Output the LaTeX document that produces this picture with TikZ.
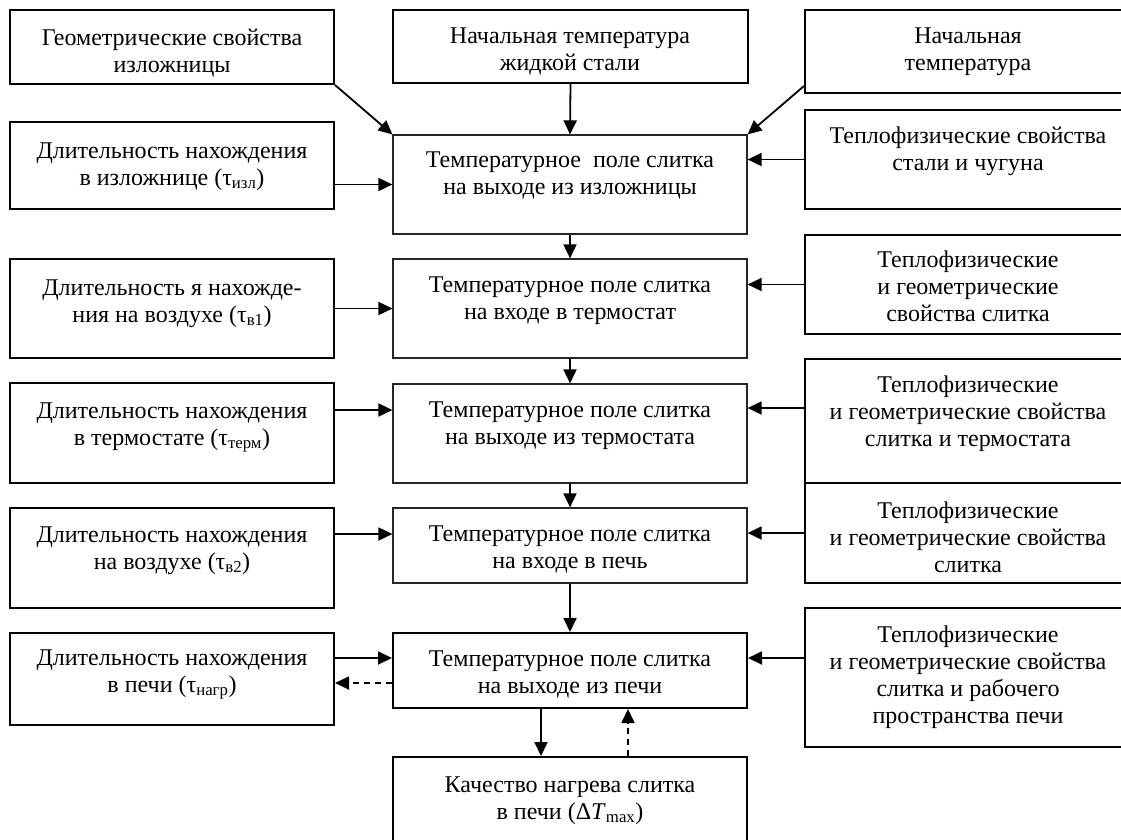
\documentclass[tikz,border=0pt]{standalone}
\usepackage{fontspec}
\setmainfont{Liberation Serif}
\usetikzlibrary{arrows.meta,fit}
\newcommand\bx[9]{%
  \node[#2, fit={(#3,#4) (#5,#6)}] (#1) {};
  \node[txt, anchor=north] at (#7,#8-18.9) {\strut #9};
}
\begin{document}
\begin{tikzpicture}[x=1pt,y=-1pt,
 outer/.style={draw, line width=2pt, inner sep=0pt},
 inner/.style={draw=black!85, line width=1.2pt, inner sep=0pt},
 txt/.style={font=\fontsize{24}{27}\selectfont, align=center, inner sep=0pt},
 arr/.style={line width=1.8pt, -{Triangle[length=14pt,width=13pt]}},
 darr/.style={arr, dash pattern=on 6pt off 5pt}]
\useasboundingbox (0,0) rectangle (1121,839);

\bx{L0}{outer}{10}{10}{334}{84}{172}{45}{Геометрические свойства\\изложницы}
\bx{T}{outer}{393}{10}{748}{83}{570}{43}{Начальная температура\\жидкой стали}
\bx{R0}{outer}{805}{10}{1133}{93}{968}{43}{Начальная\\температура}
\bx{L1}{outer}{10}{122}{334}{209}{172}{158}{Длительность нахождения\\в изложнице (τ\textsubscript{изл})}
\bx{M1}{inner}{393}{135}{747}{234}{570}{167}{Температурное\ \ поле слитка\\на выходе из изложницы}
\bx{R1}{outer}{805}{110}{1133}{209}{968}{143}{Теплофизические свойства\\стали и чугуна}
\bx{L2}{outer}{10}{259}{334}{358}{172}{295}{Длительность я нахожде-\\ния на воздухе (τ\textsubscript{в1})}
\bx{M2}{inner}{393}{259}{747}{358}{570}{292}{Температурное поле слитка\\на входе в термостат}
\bx{R2}{outer}{805}{235}{1133}{334}{968}{267}{Теплофизические\\и геометрические\\свойства слитка}
\bx{L3}{outer}{10}{383}{334}{483}{172}{418}{Длительность нахождения\\в термостате (τ\textsubscript{терм})}
\bx{M3}{inner}{393}{384}{747}{483}{570}{417}{Температурное поле слитка\\на выходе из термостата}
\bx{R3}{outer}{805}{359}{1133}{483}{968}{392}{Теплофизические\\и геометрические свойства\\слитка и термостата}
\bx{L4}{outer}{10}{508}{334}{608}{172}{542}{Длительность нахождения\\на воздухе (τ\textsubscript{в2})}
\bx{M4}{inner}{393}{508}{747}{583}{570}{541}{Температурное поле слитка\\на входе в печь}
\bx{R4}{outer}{805}{483}{1133}{583}{968}{518}{Теплофизические\\и геометрические свойства\\слитка}
\bx{L5}{outer}{10}{633}{334}{725}{172}{665}{Длительность нахождения\\в печи (τ\textsubscript{нагр})}
\bx{M5}{outer}{393}{633}{747}{708}{570}{666}{Температурное поле слитка\\на выходе из печи}
\bx{R5}{outer}{805}{608}{1133}{747}{968}{642}{Теплофизические\\и геометрические свойства\\слитка и рабочего\\пространства печи}
\bx{M6}{outer}{393}{757}{747}{870}{570}{792}{Качество нагрева слитка\\в печи (Δ\textit{T}\textsubscript{max})}

% top row into M1
\draw[arr] (L0.south east) -- (M1.north west);
\draw[arr] (T.south) -- (M1.north);
\draw[arr] ([yshift=8pt]R0.south west) -- (M1.north east);
\draw[arr] (L1.east |- M1.west) -- (M1.west);
\draw[arr] (R1.west) -- (M1.east |- R1.west);
% M2
\draw[arr] (M1.south) -- (M2.north);
\draw[arr] (L2.east) -- (M2.west);
\draw[arr] (R2.west) -- (M2.east |- R2.west);
% M3
\draw[arr] (M2.south) -- (M3.north);
\coordinate (l3a) at ([yshift=23pt]L3.east);
\draw[arr] (l3a) -- (l3a -| M3.west);
\coordinate (r3a) at ([yshift=13pt]R3.west);
\draw[arr] (r3a) -- (r3a -| M3.east);
% M4
\draw[arr] (M3.south) -- (M4.north);
\coordinate (m4a) at ([yshift=11.5pt]M4.west);
\draw[arr] (m4a -| L4.east) -- (m4a);
\draw[arr] (R4.west) -- (R4.west -| M4.east);
% M5
\draw[arr] (M4.south) -- (M5.north);
\coordinate (m5a) at ([yshift=12.5pt]M5.west);
\draw[arr] (m5a -| L5.east) -- (m5a);
\coordinate (l5b) at ([yshift=-4pt]L5.east);
\draw[darr] (l5b -| M5.west) -- (l5b);
\draw[arr] (m5a -| R5.west) -- (m5a -| M5.east);
% M6
\coordinate (m5s) at ([xshift=-29pt]M5.south);
\draw[arr] (m5s) -- (m5s |- M6.north);
\coordinate (m6n) at ([xshift=58pt]M6.north);
\draw[darr] (m6n) -- (m6n |- M5.south);
\end{tikzpicture}
\end{document}
